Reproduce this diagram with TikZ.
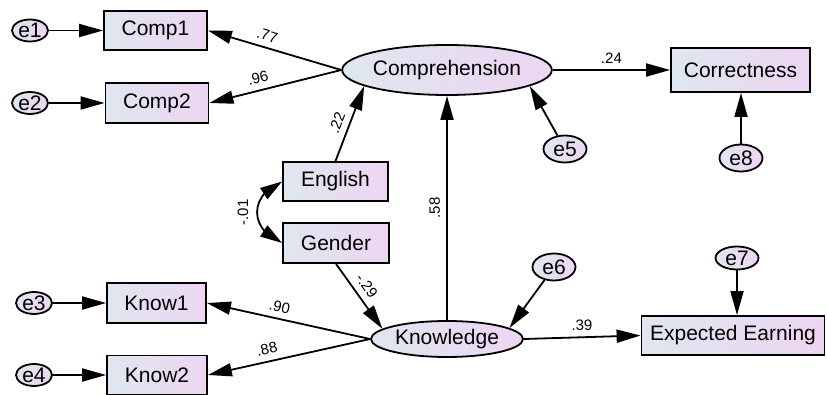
\documentclass[tikz,border=0pt]{standalone}
\usepackage{fontspec}
\setmainfont{Liberation Sans}
\usetikzlibrary{
    shapes.geometric,
    arrows.meta,
    positioning,
    bending
}
\definecolor{boxleft}{RGB}{223,231,239}
\definecolor{boxright}{RGB}{237,213,242}

\begin{document}
\begin{tikzpicture}[
        x=1pt, y=-1pt,
        obs/.style={draw, line width=1.8pt, left color=boxleft, right color=boxright, inner sep=0pt, font=\fontsize{21}{25}\selectfont},
        latent/.style={obs, ellipse},
        err/.style={latent, minimum width=36pt, minimum height=22pt},
        errb/.style={latent, minimum width=43pt, minimum height=27pt},
        arr/.style={line width=1.8pt, -{Triangle[length=24pt, width=13pt]}},
        coef/.style={font=\fontsize{15}{18}\selectfont, sloped, above, inner sep=6pt}
    ]
        \useasboundingbox (0, 0) rectangle (827, 395);

        % Latent variables
        \node[latent, minimum width=191pt, minimum height=50pt] (compre) at (447, 70) {Comprehension};
        \node[latent, minimum width=152pt, minimum height=36pt] (know) at (447, 339) {Knowledge};

        % Observed variables
        \node[obs, minimum width=103pt, minimum height=39pt] (comp1) at (155.5, 30.5) {Comp1};
        \node[obs, minimum width=103pt, minimum height=40pt] (comp2) at (157, 103) {Comp2};
        \node[obs, minimum width=105pt, minimum height=39pt] (english) at (335.5, 181.5) {English};
        \node[obs, minimum width=106pt, minimum height=40pt] (gender) at (336, 243) {Gender};
        \node[obs, minimum width=99pt, minimum height=40pt] (know1) at (156.5, 303) {Know1};
        \node[obs, minimum width=100pt, minimum height=39pt] (know2) at (157, 375) {Know2};
        \node[obs, minimum width=139pt, minimum height=44pt] (correct) at (740.5, 70) {Correctness};
        \node[obs, minimum width=183pt, minimum height=39pt] (earning) at (733, 335.5) {Expected Earning};

        % Error terms
        \node[err] (e1) at (30, 30.5) {e1};
        \node[err] (e2) at (30, 103) {e2};
        \node[err] (e3) at (34, 303) {e3};
        \node[err] (e4) at (34, 375) {e4};
        \node[errb] (e5) at (565, 149) {e5};
        \node[errb] (e6) at (554, 267) {e6};
        \node[errb, minimum height=23pt] (e7) at (737, 258) {e7};
        \node[errb] (e8) at (741, 158) {e8};

        % Error paths
        \draw[arr] (e1) -- (comp1);
        \draw[arr] (e2) -- (comp2);
        \draw[arr] (e3) -- (know1);
        \draw[arr] (e4) -- (know2);
        \draw[arr] (e5) -- (compre.349);
        \draw[arr] (e6) -- (know.10);
        \draw[arr] (e7) -- (e7 |- earning.north);
        \draw[arr] (e8) -- (e8 |- correct.south);

        % Loadings
        \draw[arr] (compre.west) -- (comp1.east) node[coef, pos=0.58] {.77};
        \draw[arr] (compre.west) -- (comp2.east) node[coef, pos=0.61] {.96};
        \draw[arr] (know.west) -- (know1.east) node[coef, pos=0.57] {.90};
        \draw[arr] (know.west) -- (know2.east) node[coef, pos=0.62] {.88};

        % Structural paths
        \draw[arr] (english.north) -- (compre.191) node[coef, pos=0.45] {.22};
        \draw[arr] (know.north) -- (compre.south) node[coef, midway] {.58};
        \draw[arr] (gender.south) -- (know.171) node[coef, pos=0.45] {-.29};
        \draw[arr] (compre.east) -- (correct.west) node[coef, midway] {.24};
        \draw[arr] (know.east) -- (earning.west) node[coef, midway] {.39};

        % Covariance
        \draw[line width=1.8pt, {Triangle[length=22pt, width=13pt]}-{Triangle[length=22pt, width=13pt]}]
            (gender.west) to[bend left=68, looseness=1.5] node[coef, midway, inner sep=8pt] {-.01} (english.west);
    \end{tikzpicture}
\end{document}
